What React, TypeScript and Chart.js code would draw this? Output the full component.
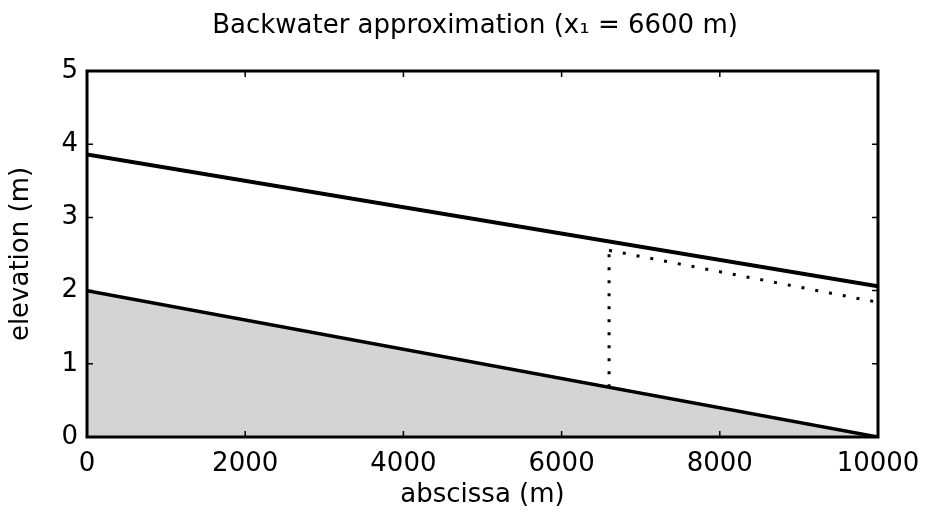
import React, { useEffect, useRef } from "react";
import { Chart, registerables } from "chart.js";

Chart.register(...registerables);

// Data
const profileX = [0, 10000]; // abscissa (m)
const bedElevation = [2.0, 0.0]; // channel bed (m)
const waterElevation = [3.86, 2.06]; // water surface (m)
const x1 = 6600; // backwater start point (m)
const approxX = [6600, 10000];
const approxElevation = [2.55, 1.84]; // backwater approximation (m)
const dropElevation = [0.68, 2.55]; // vertical dotted line at x1 (m)
const xTicks = [0, 2000, 4000, 6000, 8000, 10000];
const yTicks = [0, 1, 2, 3, 4, 5];
const titleText = "Backwater approximation (x\u2081 = 6600 m)";

const FONT = "'DejaVu Sans', 'Liberation Sans', Arial, sans-serif";

const framePlugin = {
  id: "matlabFrame",
  afterDraw(chart: any) {
    const { ctx, chartArea } = chart;
    const { left, right, top, bottom } = chartArea;
    const xs = chart.scales.x;
    const ys = chart.scales.y;
    ctx.save();
    ctx.strokeStyle = "#000";
    ctx.lineWidth = 1.5;
    const tl = 6;
    ctx.beginPath();
    yTicks.forEach((v) => {
      const py = ys.getPixelForValue(v);
      ctx.moveTo(left, py);
      ctx.lineTo(left + tl, py);
      ctx.moveTo(right, py);
      ctx.lineTo(right - tl, py);
    });
    xTicks.forEach((v) => {
      const px = xs.getPixelForValue(v);
      ctx.moveTo(px, bottom);
      ctx.lineTo(px, bottom - tl);
      ctx.moveTo(px, top);
      ctx.lineTo(px, top + tl);
    });
    ctx.stroke();
    ctx.lineWidth = 3;
    ctx.strokeRect(left, top, right - left, bottom - top);
    // title
    ctx.fillStyle = "#000";
    ctx.font = `26px ${FONT}`;
    ctx.textAlign = "center";
    ctx.textBaseline = "middle";
    ctx.fillText(titleText, 475, 26);
    ctx.restore();
  },
};

export default function App() {
  const ref = useRef<HTMLCanvasElement | null>(null);

  useEffect(() => {
    if (!ref.current) return;
    const toPts = (xs: number[], ys: number[]) => xs.map((x, i) => ({ x, y: ys[i] }));
    const chart = new Chart(ref.current, {
      type: "line",
      data: {
        datasets: [
          {
            label: "bed",
            data: toPts(profileX, bedElevation),
            borderColor: "#000",
            borderWidth: 3.5,
            backgroundColor: "#d4d4d4",
            fill: "origin",
            pointRadius: 0,
          },
          {
            label: "water surface",
            data: toPts(profileX, waterElevation),
            borderColor: "#000",
            borderWidth: 4,
            fill: false,
            pointRadius: 0,
          },
          {
            label: "x1",
            data: toPts([x1, x1], dropElevation),
            borderColor: "#000",
            borderWidth: 3,
            borderDash: [3, 10],
            fill: false,
            pointRadius: 0,
          },
          {
            label: "approximation",
            data: toPts(approxX, approxElevation),
            borderColor: "#000",
            borderWidth: 3,
            borderDash: [3, 11],
            fill: false,
            pointRadius: 0,
          },
        ],
      },
      options: {
        animation: false,
        responsive: false,
        maintainAspectRatio: false,
        layout: { padding: { left: 0, right: 50, top: 71, bottom: 0 } },
        plugins: {
          legend: { display: false },
          tooltip: { enabled: false },
          title: { display: false },
        },
        scales: {
          x: {
            type: "linear",
            min: 0,
            max: 10000,
            afterFit: (s: any) => {
              s.height = 80;
              s.paddingLeft = 0;
              s.paddingRight = 0;
            },
            afterBuildTicks: (s: any) => {
              s.ticks = xTicks.map((v) => ({ value: v }));
            },
            grid: { display: false, drawTicks: false },
            border: { display: false },
            ticks: {
              color: "#000",
              font: { family: FONT, size: 26 },
              padding: 12,
              maxRotation: 0,
              autoSkip: false,
              callback: (v: any) => String(v),
            },
            title: {
              display: true,
              text: "abscissa (m)",
              color: "#000",
              font: { family: FONT, size: 26 },
              padding: { top: 0, bottom: 6 },
            },
          },
          y: {
            type: "linear",
            min: 0,
            max: 5,
            afterFit: (s: any) => {
              s.width = 87;
              s.paddingTop = 0;
              s.paddingBottom = 0;
            },
            afterBuildTicks: (s: any) => {
              s.ticks = yTicks.map((v) => ({ value: v }));
            },
            grid: { display: false, drawTicks: false },
            border: { display: false },
            ticks: {
              color: "#000",
              font: { family: FONT, size: 26 },
              padding: 9,
              autoSkip: false,
              callback: (v: any) => String(v),
            },
            title: {
              display: true,
              text: "elevation (m)",
              color: "#000",
              font: { family: FONT, size: 26 },
              padding: { top: 6, bottom: 0 },
            },
          },
        },
      },
      plugins: [framePlugin],
    });
    return () => chart.destroy();
  }, []);

  return (
    <div style={{ position: "fixed", left: 0, top: 0, width: 928, height: 517, background: "#fff" }}>
      <canvas ref={ref} width={928} height={517} style={{ display: "block" }} />
    </div>
  );
}
